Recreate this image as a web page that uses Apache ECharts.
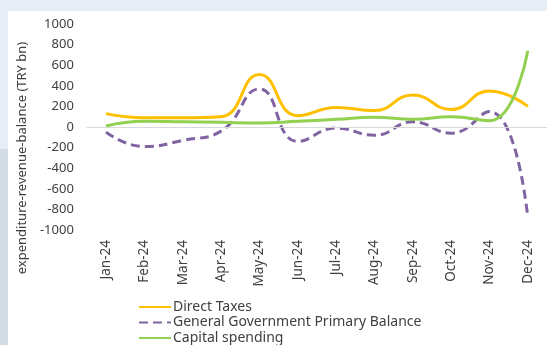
<!DOCTYPE html>
<html>
<head>
<meta charset="utf-8">
<script src="https://cdn.jsdelivr.net/npm/echarts@6/dist/echarts.min.js"></script>
<style>
  html, body { margin: 0; padding: 0; }
  body { width: 547px; height: 345px; position: relative; overflow: hidden; background: #ffffff; }
  .band-top { position: absolute; left: 0; top: 0; width: 547px; height: 11px; background: #e8edf5; }
  .band-left-a { position: absolute; left: 0; top: 0; width: 8px; height: 149px; background: #e8edf5; }
  .band-left-b { position: absolute; left: 0; top: 149px; width: 8px; height: 196px; background: #d3dce5; }
  #chart { position: absolute; left: 8px; top: 11px; width: 539px; height: 334px; background: #ffffff; }
</style>
</head>
<body>
<div class="band-top"></div>
<div class="band-left-a"></div>
<div class="band-left-b"></div>
<div id="chart"></div>
<script>
// Monthly categories (2024)
const months = ['Jan-24', 'Feb-24', 'Mar-24', 'Apr-24', 'May-24', 'Jun-24',
                'Jul-24', 'Aug-24', 'Sep-24', 'Oct-24', 'Nov-24', 'Dec-24'];

// Series values, TRY bn
const directTaxes      = [130, 90, 90, 100, 510, 110, 190, 160, 310, 170, 350, 200];
const primaryBalance   = [-50, -190, -130, -40, 370, -140, -10, -80, 50, -60, 150, -880];
const capitalSpending  = [10, 55, 50, 45, 40, 55, 75, 95, 75, 100, 60, 740];

// Value axis ticks
const yMin = -1000;
const yMax = 1000;
const yStep = 200;

const textColor = '#404040';
const fontFamily = '"Noto Sans", sans-serif';

const chart = echarts.init(document.getElementById('chart'), null, { renderer: 'canvas' });

chart.setOption({
  animation: false,
  backgroundColor: '#ffffff',
  textStyle: { fontFamily: fontFamily, color: textColor },
  grid: { left: 78, right: 0, top: 13, bottom: 115, containLabel: false },
  legend: {
    orient: 'vertical',
    left: 130,
    top: 289,
    height: 80,
    itemWidth: 32,
    itemHeight: 12,
    itemGap: 1.5,
    padding: 0,
    itemStyle: { opacity: 0 },
    textStyle: { fontSize: 14, lineHeight: 14, color: textColor, fontFamily: fontFamily, padding: [0, 0, 0, -3] },
    data: ['Direct Taxes', 'General Government Primary Balance', 'Capital spending']
  },
  xAxis: {
    type: 'category',
    data: months,
    boundaryGap: true,
    axisLine: { show: false, onZero: false },
    axisTick: { show: false },
    axisLabel: { rotate: 90, margin: 10, fontSize: 13.5, color: textColor, fontFamily: fontFamily, interval: 0 },
    splitLine: { show: false }
  },
  yAxis: {
    type: 'value',
    min: yMin,
    max: yMax,
    interval: yStep,
    name: 'expenditure-revenue-balance (TRY bn)',
    nameLocation: 'middle',
    nameRotate: 90,
    nameGap: 47,
    nameTextStyle: { fontSize: 13, color: textColor, fontFamily: fontFamily, padding: [0, 62, 0, 0] },
    axisLine: { show: false },
    axisTick: { show: false },
    axisLabel: {
      margin: 13, fontSize: 13, color: textColor, fontFamily: fontFamily,
      formatter: function (v) { return String(v); }
    },
    splitLine: { show: false }
  },
  series: [
    {
      name: 'Direct Taxes',
      type: 'line',
      data: directTaxes,
      smooth: 0.5,
      symbol: 'none',
      z: 3,
      lineStyle: { width: 3, color: '#ffc000' },
      itemStyle: { color: '#ffc000' },
      markLine: {
        silent: true,
        symbol: 'none',
        label: { show: false },
        lineStyle: { color: '#d9d9d9', width: 1, type: 'solid' },
        data: [{ yAxis: 0 }]
      }
    },
    {
      name: 'General Government Primary Balance',
      type: 'line',
      data: primaryBalance,
      smooth: 0.5,
      symbol: 'none',
      z: 2,
      lineStyle: { width: 3, color: '#8064a2', type: [9, 5] },
      itemStyle: { color: '#8064a2' }
    },
    {
      name: 'Capital spending',
      type: 'line',
      data: capitalSpending,
      smooth: 0.5,
      symbol: 'none',
      z: 4,
      lineStyle: { width: 3, color: '#92d050' },
      itemStyle: { color: '#92d050' }
    }
  ]
});
</script>
</body>
</html>
